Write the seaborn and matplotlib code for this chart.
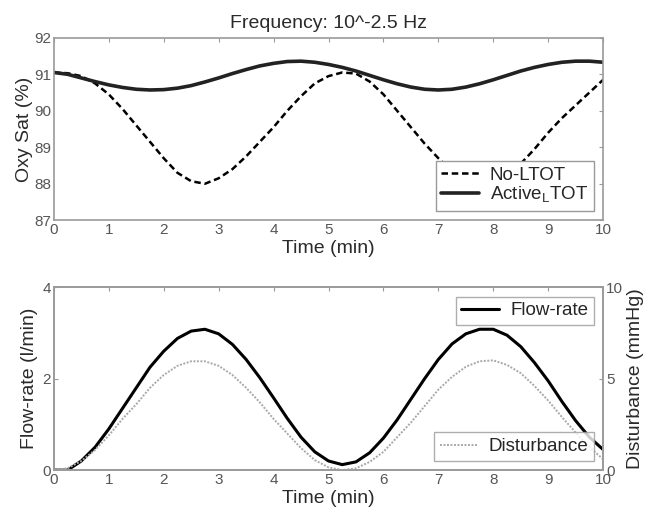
import pandas as pd
import seaborn as sns
import matplotlib.pyplot as plt

# time axis (min), read every 0.25 min
time_min = [i * 0.25 for i in range(41)]

# top panel: oxygen saturation (%)
no_ltot = [91.05, 91.03, 90.95, 90.75, 90.45, 90.05, 89.6, 89.15, 88.7, 88.3,
           88.07, 88.0, 88.15, 88.4, 88.75, 89.15, 89.55, 90.0, 90.4, 90.75,
           90.95, 91.05, 91.02, 90.8, 90.45, 90.0, 89.55, 89.1, 88.7, 88.35,
           88.12, 88.02, 88.02, 88.2, 88.55, 88.95, 89.4, 89.8, 90.15, 90.5,
           90.85]
active_ltot = [91.05, 91.0, 90.9, 90.8, 90.71, 90.64, 90.59, 90.57, 90.58, 90.62,
               90.69, 90.79, 90.9, 91.02, 91.13, 91.23, 91.3, 91.35, 91.36, 91.33,
               91.27, 91.19, 91.09, 90.97, 90.85, 90.74, 90.65, 90.59, 90.57, 90.59,
               90.65, 90.74, 90.85, 90.97, 91.09, 91.19, 91.27, 91.33, 91.36, 91.36,
               91.33]

# bottom panel: flow-rate (l/min) and disturbance (mmHg)
flow_rate = [0.0, 0.0, 0.2, 0.5, 0.9, 1.35, 1.8, 2.25, 2.6, 2.88,
             3.04, 3.08, 2.98, 2.75, 2.42, 2.02, 1.58, 1.13, 0.72, 0.4,
             0.2, 0.12, 0.18, 0.38, 0.7, 1.1, 1.55, 2.0, 2.42, 2.76,
             2.98, 3.08, 3.08, 2.95, 2.7, 2.35, 1.95, 1.5, 1.08, 0.72,
             0.45]
disturbance = [0.0, 0.1, 0.5, 1.1, 1.9, 2.8, 3.6, 4.5, 5.2, 5.7,
               5.95, 5.95, 5.7, 5.2, 4.5, 3.7, 2.8, 2.0, 1.2, 0.55,
               0.15, 0.0, 0.1, 0.45, 1.0, 1.8, 2.6, 3.5, 4.4, 5.1,
               5.65, 5.95, 6.0, 5.75, 5.3, 4.6, 3.8, 2.9, 2.05, 1.25,
               0.6]

df = pd.DataFrame({'time': time_min, 'no_ltot': no_ltot, 'active': active_ltot,
                   'flow': flow_rate, 'dist': disturbance})

sns.set_style('white')
plt.rcParams['font.family'] = ['Liberation Sans', 'DejaVu Sans']
plt.rcParams['mathtext.fontset'] = 'custom'
plt.rcParams['mathtext.rm'] = 'Liberation Sans'

fig = plt.figure(figsize=(6.57, 5.11), dpi=100)
ax1 = fig.add_axes([0.082, 0.569, 0.836, 0.357])
ax2 = fig.add_axes([0.082, 0.080, 0.836, 0.358])

spine_col = '#9a9a9a'
tick_col = '#555555'
text_col = '#2a2a2a'
leg_kw = dict(fontsize=13.5, frameon=True, fancybox=False, handlelength=2.0,
              handletextpad=0.6, borderpad=0.3, labelspacing=0.05)

# top panel
sns.lineplot(x='time', y='no_ltot', data=df, ax=ax1, color='black', lw=1.8,
             linestyle=(0, (2.6, 1.5)), label='No-LTOT')
sns.lineplot(x='time', y='active', data=df, ax=ax1, color='#222222', lw=2.6,
             label=r'Active$_\mathregular{L}$TOT')
ax1.set_xlim(0, 10)
ax1.set_ylim(87, 92)
ax1.set_xticks(range(11))
ax1.set_yticks(range(87, 93))
ax1.set_title('Frequency: 10^-2.5 Hz', fontsize=14, color=text_col, pad=7)
ax1.set_xlabel('Time (min)', fontsize=14, color=text_col, labelpad=2)
ax1.set_ylabel('Oxy Sat (%)', fontsize=14, color=text_col, labelpad=1)
leg1 = ax1.legend(loc='lower right', borderaxespad=0.5, **leg_kw)
leg1.get_frame().set_edgecolor(spine_col)
leg1.get_frame().set_alpha(1)

# bottom panel
sns.lineplot(x='time', y='flow', data=df, ax=ax2, color='black', lw=2.2,
             label='Flow-rate')
ax2.set_xlim(0, 10)
ax2.set_ylim(0, 4)
ax2.set_xticks(range(11))
ax2.set_yticks([0, 2, 4])
ax2.set_xlabel('Time (min)', fontsize=14, color=text_col, labelpad=2)
ax2.set_ylabel('Flow-rate (l/min)', fontsize=14, color=text_col, labelpad=3)
leg2 = ax2.legend(loc='upper right', borderaxespad=0.5, **leg_kw)
leg2.get_frame().set_edgecolor(spine_col)

ax3 = ax2.twinx()
sns.lineplot(x='time', y='dist', data=df, ax=ax3, color='#a8a8a8', lw=1.4,
             linestyle=(0, (1, 0.8)), label='Disturbance')
ax3.set_ylim(0, 10)
ax3.set_yticks([0, 5, 10])
ax3.set_ylabel('Disturbance (mmHg)', fontsize=14, color=text_col, labelpad=3)
leg3 = ax3.legend(loc='lower right', borderaxespad=0.5, **leg_kw)
leg3.get_frame().set_edgecolor(spine_col)

for ax in (ax1, ax2, ax3):
    for s in ax.spines.values():
        s.set_color(spine_col)
        s.set_linewidth(1.2)
    ax.tick_params(direction='in', length=3, width=0.8, colors=spine_col,
                   labelcolor=tick_col, labelsize=11, pad=2)
ax1.tick_params(top=True, right=True)
ax2.tick_params(top=True)

fig.savefig('out.png', dpi=100)
plt.close()
